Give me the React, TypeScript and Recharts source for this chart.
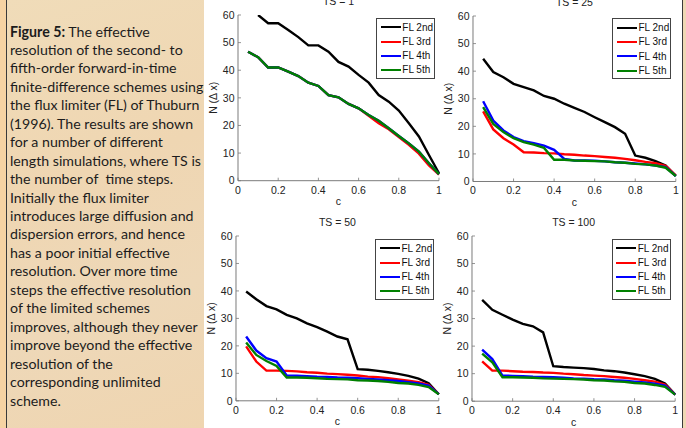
import React from 'react';
import { LineChart, Line, XAxis, YAxis, Legend } from 'recharts';

const cValues = [0.05, 0.1, 0.15, 0.2, 0.25, 0.3, 0.35, 0.4, 0.45, 0.5, 0.55, 0.6, 0.65, 0.7, 0.75, 0.8, 0.85, 0.9, 0.95, 1.0];

const xTicks = [0, 0.2, 0.4, 0.6, 0.8, 1];
const yTicks = [0, 10, 20, 30, 40, 50, 60];

const seriesNames = ['FL 2nd', 'FL 3rd', 'FL 4th', 'FL 5th'];
const seriesColors = ['#000000', '#ff0000', '#0000ff', '#008000'];

// TS = 1
const ts1Fl2 = [null, 60, 57, 57, 54.6, 52, 49, 49, 46.7, 43, 41.3, 38.3, 35.5, 31, 28.6, 25.4, 20.8, 16, 9.3, 2.7];
const ts1Fl3 = [46.7, 44.7, 41, 41, 39.5, 37.9, 35.5, 34.3, 31, 30.2, 27.8, 26.2, 23.5, 20.8, 18.6, 15.8, 13, 9.8, 5.5, 2.2];
const ts1Fl4 = [46.7, 44.7, 41, 41, 39.5, 37.9, 35.5, 34.3, 31, 30.2, 27.8, 26.2, 23.8, 21.7, 19, 16.2, 13.5, 10.5, 6.3, 2.4];
const ts1Fl5 = [46.7, 44.7, 41, 41, 39.5, 37.9, 35.5, 34.3, 31, 30.2, 27.8, 26.2, 23.8, 21.7, 19, 16.2, 13.5, 10.5, 6.3, 2.4];

// TS = 25
const ts25Fl2 = [44.5, 39.7, 37.8, 35.4, 34.2, 33, 31, 30, 28.2, 26.7, 25.2, 23.3, 21.5, 19.7, 17.3, 9.4, 8.6, 7.4, 5.8, 2];
const ts25Fl3 = [25.4, 18.9, 15.7, 13.4, 10.6, 10.5, 10.3, 10.2, 9.9, 9.7, 9.4, 9.2, 8.9, 8.6, 8.2, 7.7, 7.1, 6.6, 5.7, 2.2];
const ts25Fl4 = [29.1, 22.1, 18.5, 16.1, 14.6, 13.9, 13, 11.5, 8.2, 7.6, 7.6, 7.5, 7.3, 7, 6.8, 6.5, 6.2, 5.8, 5.2, 2];
const ts25Fl5 = [27, 20.9, 17.9, 15.7, 14.3, 13.4, 12.2, 7.9, 7.9, 7.6, 7.5, 7.4, 7.3, 7, 6.8, 6.4, 6.2, 5.8, 5, 2];

// TS = 50
const ts50Fl2 = [39.8, 37, 34.5, 33.3, 31.3, 30, 28.2, 26.8, 25.2, 23.4, 22.4, 11.5, 11.3, 10.9, 10.4, 9.8, 9.1, 8.1, 6.4, 2.4];
const ts50Fl3 = [19.8, 14.3, 11, 11, 10.9, 10.7, 10.4, 10.2, 9.9, 9.7, 9.5, 9.2, 8.8, 8.6, 8.2, 7.8, 7.3, 6.8, 5.8, 2.4];
const ts50Fl4 = [23.4, 18.3, 15.5, 14.3, 9.2, 9.1, 9, 8.8, 8.7, 8.5, 8.4, 8.2, 8, 7.8, 7.5, 7.2, 6.8, 6.3, 5.5, 2.4];
const ts50Fl5 = [21.2, 16.7, 14.5, 12.7, 8.5, 8.5, 8.4, 8.2, 8, 7.9, 7.8, 7.5, 7.4, 7.2, 6.9, 6.5, 6.3, 5.8, 5, 2.4];

// TS = 100
const ts100Fl2 = [36.8, 33.2, 31.4, 29.6, 28.1, 27.2, 25, 12.7, 12.4, 12.2, 12, 11.7, 11.2, 10.9, 10.4, 9.8, 9.1, 8.1, 6.4, 2.4];
const ts100Fl3 = [14.5, 11.1, 11.1, 10.9, 10.7, 10.6, 10.4, 10.3, 10, 9.8, 9.5, 9.3, 9.1, 8.8, 8.5, 8.1, 7.6, 7.1, 6, 2.4];
const ts100Fl4 = [18.7, 15.3, 9.3, 9.2, 9.1, 8.9, 8.8, 8.7, 8.5, 8.3, 8.2, 8, 7.9, 7.6, 7.4, 7.1, 6.8, 6.4, 5.7, 2.4];
const ts100Fl5 = [17.3, 14.1, 8.7, 8.7, 8.6, 8.5, 8.3, 8.2, 8.1, 8, 7.9, 7.6, 7.5, 7.2, 7, 6.6, 6.4, 5.9, 5.2, 2.4];

const captionLines = [
  'resolution of the second- to',
  'fifth-order forward-in-time',
  'finite-difference schemes using',
  'the flux limiter (FL) of Thuburn',
  '(1996). The results are shown',
  'for a number of different',
  'length simulations, where TS is',
  'the number of  time steps.',
  'Initially the flux limiter',
  'introduces large diffusion and',
  'dispersion errors, and hence',
  'has a poor initial effective',
  'resolution. Over more time',
  'steps the effective resolution',
  'of the limited schemes',
  'improves, although they never',
  'improve beyond the effective',
  'resolution of the',
  'corresponding unlimited',
  'scheme.',
];

function buildRows(s2: (number | null)[], s3: number[], s4: number[], s5: number[]) {
  return cValues.map((c, i) => ({ c, fl2: s2[i], fl3: s3[i], fl4: s4[i], fl5: s5[i] }));
}

const panels = [
  { title: 'TS = 1', rows: buildRows(ts1Fl2, ts1Fl3, ts1Fl4, ts1Fl5), x0: 238.3, y0: 15, x1: 439.3, y1: 180.7 },
  { title: 'TS = 25', rows: buildRows(ts25Fl2, ts25Fl3, ts25Fl4, ts25Fl5), x0: 472.7, y0: 15.5, x1: 675.5, y1: 181 },
  { title: 'TS = 50', rows: buildRows(ts50Fl2, ts50Fl3, ts50Fl4, ts50Fl5), x0: 235.7, y0: 236, x1: 438.5, y1: 400.8 },
  { title: 'TS = 100', rows: buildRows(ts100Fl2, ts100Fl3, ts100Fl4, ts100Fl5), x0: 471.5, y0: 236, x1: 674.7, y1: 401.2 },
];

const ML = 40;
const MT = 22;
const MR = 8;
const MB = 30;
const FONT = '"Liberation Sans", Arial, Helvetica, sans-serif';
const FS = 10.5;
const LEGEND_W = 59;
const Y_TICK_MARGIN = 3.5;
const X_TICK_MARGIN = 5.5;
const AXIS_COLOR = '#7a7a7a';

const renderLegend = (props: any) => {
  const payload = props.payload || [];
  return (
    <div
      style={{
        position: 'relative',
        width: LEGEND_W,
        height: 61,
        boxSizing: 'border-box',
        border: '1px solid #444',
        background: '#fff',
        fontFamily: FONT,
        fontSize: 10,
        color: '#111',
        lineHeight: '12px',
      }}
    >
      {payload.map((entry: any, i: number) => (
        <div key={i} style={{ position: 'absolute', left: 0, top: 2 + i * 14.3, width: LEGEND_W - 2, height: 14.3, whiteSpace: 'nowrap' }}>
          <span style={{ position: 'absolute', left: 3.5, top: 5.8, width: 20, height: 0, borderTop: `2.6px solid ${entry.color}` }} />
          <span style={{ position: 'absolute', left: 25, top: 1 }}>{entry.value}</span>
        </div>
      ))}
    </div>
  );
};

const YTick = (props: any) => {
  const { x, y, payload } = props;
  const ax = x + Y_TICK_MARGIN;
  return (
    <g>
      <line x1={ax} x2={ax + 3} y1={y} y2={y} stroke={AXIS_COLOR} strokeWidth={0.8} />
      <text x={x} y={y} dy="0.355em" textAnchor="end" fontSize={FS} fill="#222" fontFamily={FONT}>
        {payload.value}
      </text>
    </g>
  );
};

const XTick = (props: any) => {
  const { x, y, payload } = props;
  const ay = y - X_TICK_MARGIN;
  return (
    <g>
      <line x1={x} x2={x} y1={ay} y2={ay - 3} stroke={AXIS_COLOR} strokeWidth={0.8} />
      <text x={x} y={y} dy="0.71em" textAnchor="middle" fontSize={FS} fill="#222" fontFamily={FONT}>
        {payload.value}
      </text>
    </g>
  );
};

function Panel({ p }: { p: typeof panels[number] }) {
  const pw = p.x1 - p.x0;
  const ph = p.y1 - p.y0;
  const W = pw + ML + MR;
  const H = ph + MT + MB;
  const cx = ML + pw / 2;
  const cy = MT + ph / 2;
  return (
    <div style={{ position: 'absolute', left: p.x0 - ML, top: p.y0 - MT, width: W, height: H }}>
      <LineChart width={W} height={H} data={p.rows} margin={{ top: MT, right: MR, bottom: 0, left: 0 }} style={{ fontFamily: FONT }}>
        <XAxis
          dataKey="c"
          type="number"
          domain={[0, 1]}
          ticks={xTicks}
          height={MB}
          axisLine={{ stroke: AXIS_COLOR }}
          tickLine={false}
          tickSize={0}
          tickMargin={X_TICK_MARGIN}
          tick={<XTick />}
        />
        <YAxis
          type="number"
          domain={[0, 60]}
          ticks={yTicks}
          width={ML}
          allowDataOverflow
          axisLine={{ stroke: AXIS_COLOR }}
          tickLine={false}
          tickSize={0}
          tickMargin={Y_TICK_MARGIN}
          tick={<YTick />}
        />
        <Legend
          content={renderLegend}
          layout="horizontal"
          verticalAlign="middle"
          align="center"
          wrapperStyle={{ position: 'absolute', left: ML + pw - 4 - LEGEND_W, top: MT + 2.5, width: LEGEND_W, height: 'auto' }}
        />
        <Line dataKey="fl2" name={seriesNames[0]} stroke={seriesColors[0]} strokeWidth={2.4} dot={false} isAnimationActive={false} />
        <Line dataKey="fl3" name={seriesNames[1]} stroke={seriesColors[1]} strokeWidth={2.4} dot={false} isAnimationActive={false} />
        <Line dataKey="fl4" name={seriesNames[2]} stroke={seriesColors[2]} strokeWidth={2.4} dot={false} isAnimationActive={false} />
        <Line dataKey="fl5" name={seriesNames[3]} stroke={seriesColors[3]} strokeWidth={2.4} dot={false} isAnimationActive={false} />
        <text x={cx} y={MT - 9.5} textAnchor="middle" fontSize={FS} fill="#222" fontFamily={FONT}>{p.title}</text>
        <text x={cx} y={MT + ph + 24.5} textAnchor="middle" fontSize={FS} fill="#222" fontFamily={FONT}>c</text>
        <text x={ML - 21} y={cy} textAnchor="middle" fontSize={FS} fill="#222" fontFamily={FONT} transform={`rotate(-90, ${ML - 21}, ${cy})`}>N (Δ x)</text>
      </LineChart>
    </div>
  );
}

export default function App() {
  return (
    <div style={{ position: 'absolute', left: 0, top: 0, width: 686, height: 428, background: '#fff', overflow: 'hidden' }}>
      <div style={{ position: 'absolute', left: 0, top: 0, width: 6, height: 428, background: '#f6d3a3' }} />
      <div style={{ position: 'absolute', left: 6, top: 0, width: 1, height: 428, background: '#3a3a3a' }} />
      <div
        style={{
          position: 'absolute',
          left: 7,
          top: 0,
          width: 197,
          height: 428,
          background: 'linear-gradient(160deg, #f0dcb9 0%, #efd6b2 40%, #eed8b8 70%, #efd5b0 100%)',
        }}
      />
      <div
        style={{
          position: 'absolute',
          left: 10,
          top: 22.5,
          width: 200,
          fontFamily: 'Lato, "Open Sans", sans-serif',
          fontSize: 14.2,
          lineHeight: '18.45px',
          color: '#1c1c1c',
          whiteSpace: 'pre',
        }}
      >
        <div>
          <b>Figure 5:</b> The effective
        </div>
        {captionLines.map((l, i) => (
          <div key={i}>{l}</div>
        ))}
      </div>
      <div style={{ position: 'absolute', left: 682, top: 0, width: 1, height: 428, background: '#3a3a3a' }} />
      <div style={{ position: 'absolute', left: 683, top: 0, width: 3, height: 428, background: '#efd8b4' }} />
      {panels.map((p, i) => (
        <Panel key={i} p={p} />
      ))}
    </div>
  );
}
